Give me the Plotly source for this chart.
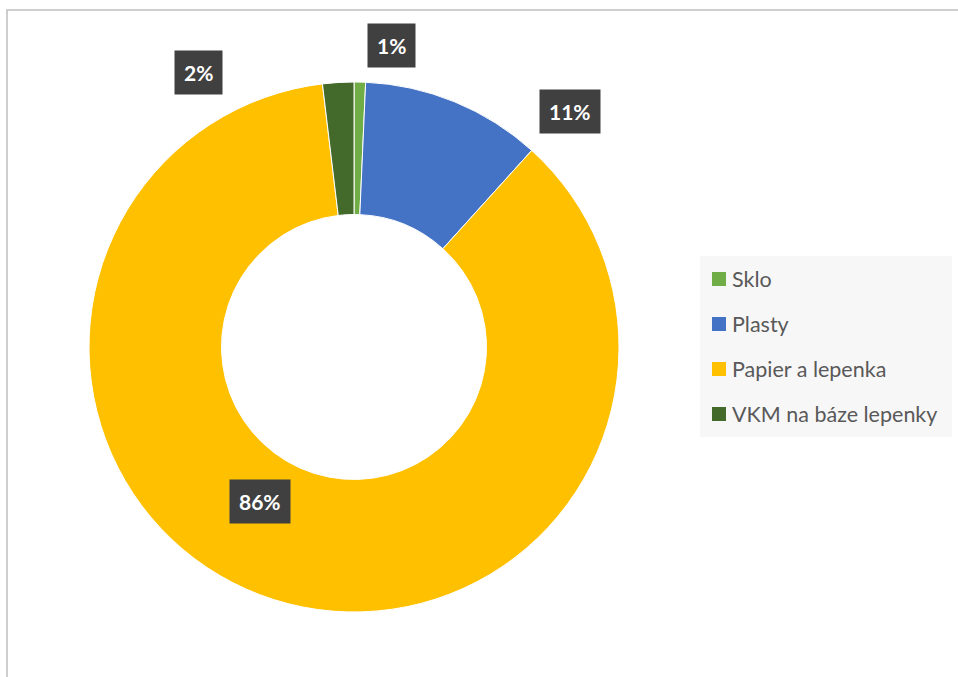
import plotly.graph_objects as go

W, H = 958, 677

categories = ["Sklo", "Plasty", "Papier a lepenka", "VKM na báze lepenky"]
values = [0.7, 11.0, 86.4, 1.9]
colors = ["#70AD47", "#4472C4", "#FFC000", "#436A2B"]
# data-label anchor points (pixels) for each slice
label_px = [(391, 46), (570, 111), (260, 501), (198, 72)]

def px_x(x):
    return x / W

def px_y(y):
    return (H - y) / H

total = sum(values)
pct_text = [f"{round(v / total * 100)}%" for v in values]

fig = go.Figure()
fig.add_trace(go.Pie(
    labels=categories,
    values=values,
    hole=0.5,
    sort=False,
    direction="clockwise",
    rotation=0,
    textinfo="none",
    hoverinfo="label+percent",
    marker=dict(colors=colors, line=dict(color="white", width=1)),
    domain=dict(x=[px_x(89), px_x(619)], y=[px_y(612), px_y(82)]),
    showlegend=False,
))

shapes = []
annotations = []

# chart frame
shapes.append(dict(type="rect", xref="paper", yref="paper",
                   x0=px_x(7), x1=px_x(W + 5), y0=px_y(H + 5), y1=px_y(10),
                   line=dict(color="#BFBFBF", width=1.5), fillcolor="rgba(0,0,0,0)", layer="below"))

# data labels
for (lx, ly), t in zip(label_px, pct_text):
    annotations.append(dict(
        x=px_x(lx), y=px_y(ly), xref="paper", yref="paper",
        text=f"<b>{t}</b>", showarrow=False,
        font=dict(family="Lato", size=21, color="white"),
        bgcolor="#404040", borderpad=9, xanchor="center", yanchor="middle",
    ))

# legend box
shapes.append(dict(type="rect", xref="paper", yref="paper",
                   x0=px_x(700), x1=px_x(952), y0=px_y(437), y1=px_y(256),
                   line=dict(width=0), fillcolor="#F7F7F7", layer="below"))
for i, (c, col) in enumerate(zip(categories, colors)):
    cy = 279 + 45 * i
    shapes.append(dict(type="rect", xref="paper", yref="paper",
                       x0=px_x(712), x1=px_x(726), y0=px_y(cy + 7), y1=px_y(cy - 7),
                       line=dict(width=0), fillcolor=col))
    annotations.append(dict(
        x=px_x(730), y=px_y(cy), xref="paper", yref="paper",
        text=c, showarrow=False, xanchor="left", yanchor="middle",
        font=dict(family="Lato", size=21.5, color="#595959"),
    ))

fig.update_layout(
    width=W, height=H,
    margin=dict(l=0, r=0, t=0, b=0),
    paper_bgcolor="white", plot_bgcolor="white",
    shapes=shapes, annotations=annotations,
    font=dict(family="Lato"),
)

fig.write_html("out.html", config={"displayModeBar": False},
               post_script="document.body.style.margin='0';document.body.style.overflow='hidden';")
